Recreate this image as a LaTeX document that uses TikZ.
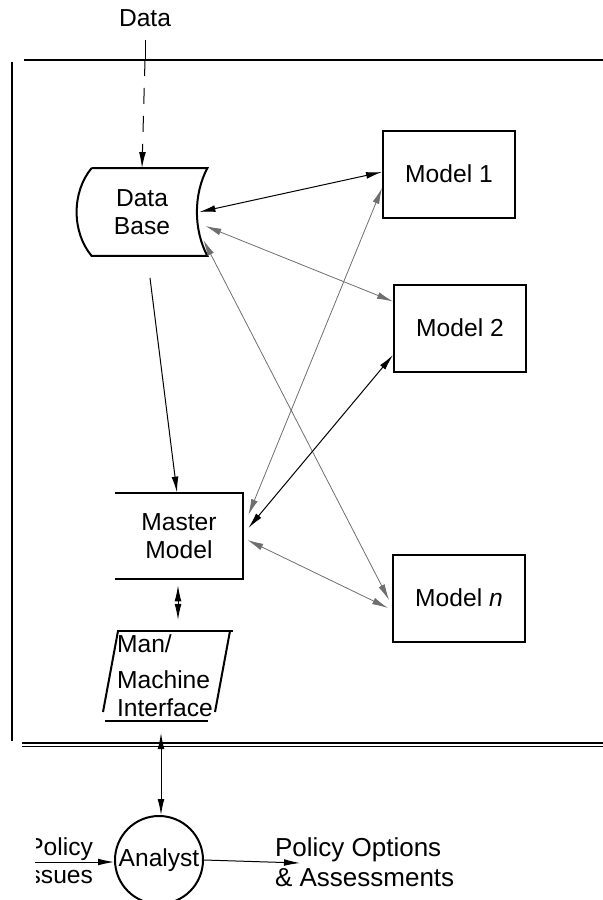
\documentclass[tikz,border=0pt]{standalone}
\usepackage{fontspec}
\setmainfont{Liberation Sans}
\usepackage{tikz}
\usetikzlibrary{arrows.meta}
\definecolor{faint}{RGB}{110,110,110}
\tikzstyle{model}=[rectangle, draw=black, line width=1pt, minimum width=66pt, minimum height=43.5pt]
\tikzstyle{store}=[rectangle, minimum width=65pt, minimum height=43.5pt, align=center]
\tikzstyle{link}=[<->, line width=.5pt]
\tikzstyle{weak}=[<->, line width=.4pt, faint]
\tikzstyle{flow}=[->, line width=.5pt]
\tikzstyle{frame}=[line width=1pt]

\begin{document}
\begin{tikzpicture}[x=.5pt, y=-.5pt, >={Latex[length=8pt,width=3.4pt]},
    font=\fontsize{12.3}{14}\selectfont]
            %data base feeding the models, master model and analyst below
            \useasboundingbox (0,0) rectangle (603,900);
            \draw[frame] (24,60) -- (603,60);
            \draw[frame] (12,62) -- (12,741);
            \draw[line width=1.3pt] (22,743) -- (603,743);
            \draw[line width=.5pt] (22,746.5) -- (603,746.5);

            \node (data) at (145,18) {Data};
            \node[store] (db) at (142,212) {Data\\Base};
            \draw[line width=1pt] ([xshift=7.5pt]db.north west) -- (db.north east)
                .. controls +(-7pt,-13pt) and +(-7pt,13pt) .. (db.south east)
                -- ([xshift=7.5pt]db.south west)
                .. controls +(-10pt,12pt) and +(-10pt,-12pt) .. ([xshift=7.5pt]db.north west);
            \coordinate (din) at (145,60);
            \draw[line width=.5pt] ([yshift=-3pt]data.south) -- (din);
            \draw[flow, dash pattern=on 8pt off 6pt] (din) -- (db.north);

            \foreach \n/\x/\y/\lab in {1/449/174/1, 2/460/328/2, n/459/598/\textit{n}}{
                \node[model] (m\n) at (\x,\y) {Model \lab};
            }

            \node[store, minimum width=64pt, minimum height=43pt] (mm) at (179,536) {Master\\Model};
            \draw[line width=1pt] (mm.north west) -- (mm.north east) -- (mm.south east) -- (mm.south west);

            \node[minimum width=63pt, minimum height=45pt, align=left] (mmi) at (165,676)
                {Man/\\[4pt]Machine\\Interface};
            \draw[line width=1.3pt] (117,631) -- (233,631);
            \draw[line width=1pt] (118,631) -- (103,712);
            \draw[line width=1pt] (230,631) -- (215,712);
            \draw[line width=.8pt] (105,721) -- (208,721);

            \node[circle, draw, line width=1pt, minimum size=44pt, inner sep=0pt] (an) at (159,860) {Analyst};

            \draw[link] ([xshift=-4pt]db.east) -- ([yshift=1pt]m1.west);
            \draw[weak] ([xshift=-1pt,yshift=-7pt]db.east) -- ([yshift=-9pt]m2.north west);
            \draw[weak] ([xshift=-2pt,yshift=-14pt]db.east) -- ([xshift=-1.5pt,yshift=-1pt]mn.west);
            \draw[flow] ([xshift=4pt,yshift=-11pt]db.south) -- ([xshift=-1pt]mm.north);
            \draw[weak] ([yshift=-7pt]m1.west) -- ([xshift=2.5pt,yshift=10.5pt]mm.east);
            \draw[link] ([yshift=-13.5pt]m2.west) -- ([xshift=2.5pt,yshift=4pt]mm.east);
            \draw[weak] ([xshift=2pt,yshift=-2pt]mm.east) -- ([xshift=-2pt,yshift=-5pt]mn.west);
            \draw[link] ([xshift=-.5pt,yshift=-3pt]mm.south) -- ([xshift=6.5pt,yshift=4pt]mmi.north);
            \draw[link] ([xshift=-2pt,yshift=-4.5pt]mmi.south) -- ([xshift=1pt]an.north);

            \begin{scope}
                \clip (36,800) rectangle (115,900);
                \node[anchor=east, align=right] (pi) at (100,861) {Policy\\Issues};
            \end{scope}
            \coordinate (pin) at (35,862);
            \draw[flow] (pin) -- ([yshift=-1pt]an.west);
            \node[anchor=west, align=left, font=\fontsize{13}{15}\selectfont] (po) at (268,862)
                {Policy Options\\\& Assessments};
            \coordinate (pout) at (300,863);
            \draw[flow] (an.east) -- (pout);
        \end{tikzpicture}
\end{document}
